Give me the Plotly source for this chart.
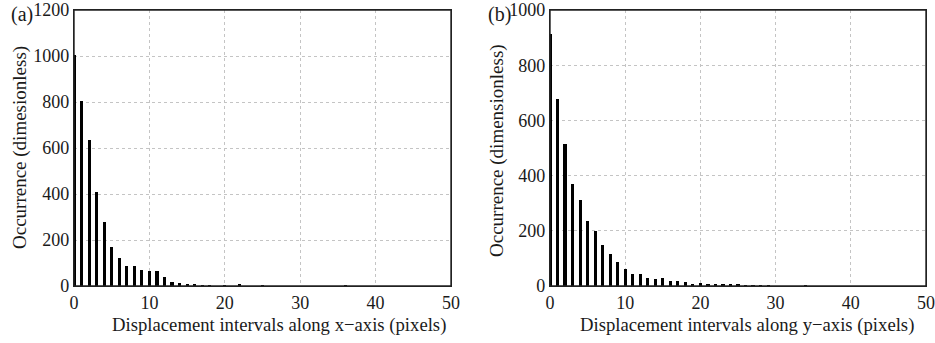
import plotly.graph_objects as go

# Displacement interval bins (pixels)
bins_x = list(range(0, 37))
bins_y = list(range(0, 35))

# Occurrence along x-axis (panel a)
occ_x = [1005, 803, 635, 407, 279, 169, 120, 87, 86, 69, 67, 67, 40, 17, 12, 9, 5, 4, 3,
         0, 1, 0, 5, 0, 0, 3, 0, 0, 0, 0, 0, 0, 0, 0, 0, 0, 3]
# Occurrence along y-axis (panel b)
occ_y = [913, 679, 513, 368, 312, 236, 201, 147, 115, 86, 63, 42, 42, 29, 24, 30, 18, 18, 14,
         4, 10, 8, 5, 4, 4, 8, 3, 3, 2, 1, 0, 0, 0, 0, 2]

panel_labels = ["(a)", "(b)"]
y_titles = ["Occurrence (dimesionless)", "Occurrence (dimensionless)"]
x_titles = ["Displacement intervals along x\u2212axis (pixels)",
            "Displacement intervals along y\u2212axis (pixels)"]
x_ticks = [0, 10, 20, 30, 40, 50]
y_ticks_a = [0, 200, 400, 600, 800, 1000, 1200]
y_ticks_b = [0, 200, 400, 600, 800, 1000]

FONT = "Liberation Serif"
W, H = 935, 343
TXT = "#1a1a1a"

fig = go.Figure()
fig.add_trace(go.Bar(x=bins_x, y=occ_x, width=0.42, marker=dict(color="black", line=dict(width=0)),
                     xaxis="x", yaxis="y", showlegend=False))
fig.add_trace(go.Bar(x=bins_y, y=occ_y, width=0.42, marker=dict(color="black", line=dict(width=0)),
                     xaxis="x2", yaxis="y2", showlegend=False))

def px_x(p):
    return p / W

def px_y(p):
    return 1 - p / H

ax_common = dict(showline=True, linecolor="#222", linewidth=1.4, mirror=True, ticks="",
                 showgrid=True, gridcolor="#c4c4c4", griddash="dot", gridwidth=1,
                 zeroline=False, automargin=False, ticklabeloverflow="allow",
                 tickfont=dict(family=FONT, size=18, color=TXT))

fig.update_layout(
    width=W, height=H, margin=dict(l=0, r=0, t=0, b=0, autoexpand=False),
    plot_bgcolor="white", paper_bgcolor="white", bargap=0,
    xaxis=dict(domain=[px_x(74), px_x(451)], range=[0, 50], tickvals=x_ticks, anchor="y", **ax_common),
    yaxis=dict(domain=[px_y(286), px_y(10)], range=[0, 1200], tickvals=y_ticks_a, anchor="x", **ax_common),
    xaxis2=dict(domain=[px_x(550), px_x(926)], range=[0, 50], tickvals=x_ticks, anchor="y2", **ax_common),
    yaxis2=dict(domain=[px_y(286), px_y(10)], range=[0, 1000], tickvals=y_ticks_b, anchor="x2", **ax_common),
)

# explicit frame around each panel
for xa, ya in (("x", "y"), ("x2", "y2")):
    fig.add_shape(type="rect", xref=f"{xa} domain", yref=f"{ya} domain", x0=0, x1=1, y0=0, y1=1,
                  line=dict(color="#222", width=1.4), fillcolor="rgba(0,0,0,0)", layer="above")

annos = []
annos.append(dict(text=panel_labels[0], x=px_x(9), y=px_y(14), xref="paper", yref="paper",
                  xanchor="left", yanchor="middle", showarrow=False, font=dict(family=FONT, size=20, color=TXT)))
annos.append(dict(text=panel_labels[1], x=px_x(486), y=px_y(14), xref="paper", yref="paper",
                  xanchor="left", yanchor="middle", showarrow=False, font=dict(family=FONT, size=20, color=TXT)))
annos.append(dict(text=y_titles[0], x=px_x(20), y=px_y(148), xref="paper", yref="paper",
                  xanchor="center", yanchor="middle", textangle=-90, showarrow=False,
                  font=dict(family=FONT, size=19, color=TXT)))
annos.append(dict(text=y_titles[1], x=px_x(497), y=px_y(150), xref="paper", yref="paper",
                  xanchor="center", yanchor="middle", textangle=-90, showarrow=False,
                  font=dict(family=FONT, size=19, color=TXT)))
annos.append(dict(text=x_titles[0], x=px_x(279), y=px_y(325), xref="paper", yref="paper",
                  xanchor="center", yanchor="middle", showarrow=False,
                  font=dict(family=FONT, size=18.7, color=TXT)))
annos.append(dict(text=x_titles[1], x=px_x(747), y=px_y(325), xref="paper", yref="paper",
                  xanchor="center", yanchor="middle", showarrow=False,
                  font=dict(family=FONT, size=18.7, color=TXT)))
fig.update_layout(annotations=annos)

fig.write_html(
    "out.html",
    config={"displayModeBar": False},
    post_script="document.body.style.margin='0';document.body.style.padding='0';"
                "document.documentElement.style.overflow='hidden';",
)
